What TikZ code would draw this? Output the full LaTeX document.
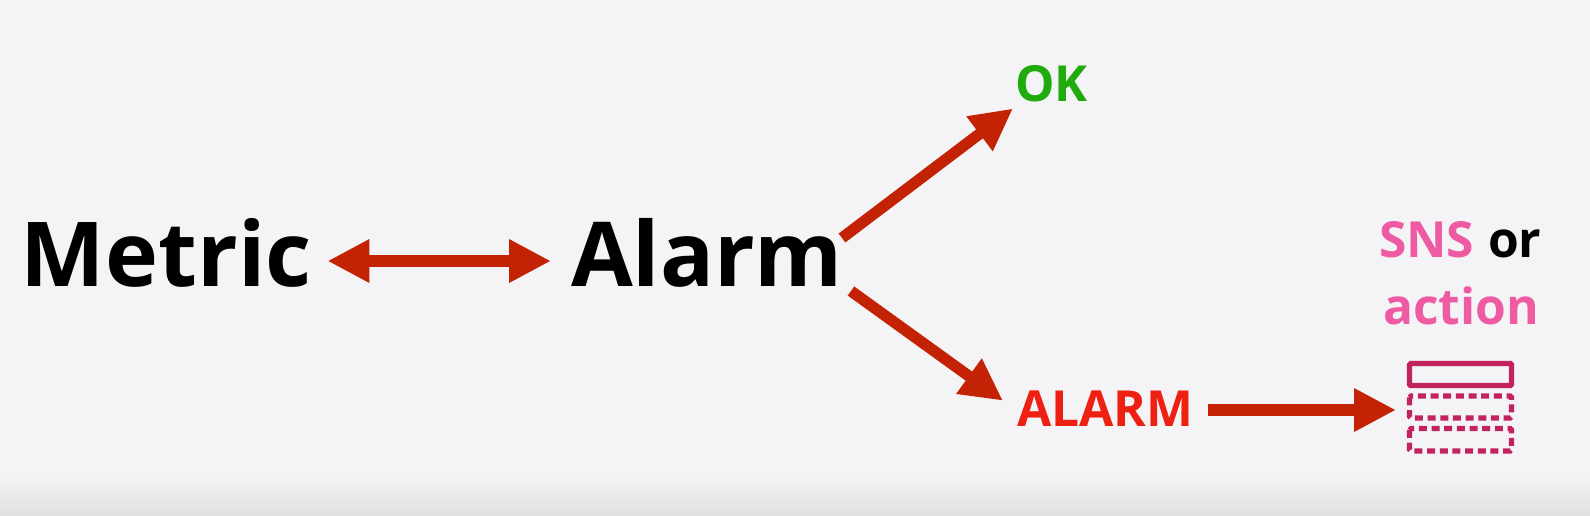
\documentclass[tikz,border=0pt]{standalone}
\usepackage{fontspec}
\setmainfont{Open Sans}[BoldFont={Open Sans Bold}]
\usetikzlibrary{arrows.meta,calc}
\definecolor{bgc}{HTML}{F4F4F7}
\definecolor{botc}{HTML}{E1E1E3}
\definecolor{arrowred}{HTML}{C42205}
\definecolor{okgreen}{HTML}{1FAB0C}
\definecolor{alarmred}{HTML}{EE2011}
\definecolor{snspink}{HTML}{EE5BA3}
\definecolor{iconc}{HTML}{C2225E}
\tikzset{
  lbl/.style={anchor=base west,inner sep=0pt,outer sep=0pt,font=\bfseries},
  bigtext/.style={lbl,font=\fontsize{67.2}{67.2}\selectfont\bfseries,text height=51.75pt,text depth=14.25pt},
  midtext/.style={lbl,font=\fontsize{37.3}{37.3}\selectfont\bfseries},
  conn/.style={draw=arrowred,line width=8.4pt,-{Triangle[length=31.5pt,width=30.5pt,fill=arrowred]}},
  conntwo/.style={draw=arrowred,line width=8.8pt,{Triangle[length=31.5pt,width=30.5pt,fill=arrowred]}-{Triangle[length=31.5pt,width=30.5pt,fill=arrowred]}},
  iconsolid/.style={draw=iconc,line width=3.8pt,rounded corners=0.8pt},
  icondash/.style={draw=iconc,line width=3.8pt,dash pattern=on 6pt off 3.5pt,rounded corners=1pt},
}
\begin{document}
\begin{tikzpicture}[x=0.75pt,y=-0.75pt]
\useasboundingbox (0,0) rectangle (1590,515);
\fill[bgc] (0,0) rectangle (1590,515);
\shade[top color=bgc,bottom color=botc] (0,474) rectangle (1590,515);
\node[bigtext,text=black] (metric) at (21,286) {Metric};
\node[bigtext,text=black] (alarm) at (571,286) {Alarm};
\node[midtext,text=okgreen] (ok) at (1015,101) {OK};
\node[midtext,text=alarmred] (alarmstate) at (1017,426.5) {ALARM};
\node[midtext,text=snspink] (sns) at (1379,257) {SNS};
\node[midtext,text=black] (orword) at (1488,257) {or};
\node[midtext,text=snspink] (action) at (1383,324) {action};
\path[iconsolid] (1409.5,363.5) rectangle (1511.5,385.5);
\path[icondash] (1409.5,396) rectangle (1511.5,418);
\path[icondash] (1409.5,428.5) rectangle (1511.5,451);
\coordinate (icon) at (1396,410);
\draw[conntwo,shorten <=12pt] (metric.east) -- ($(alarm.west)+(-20,0)$);
\draw[conn] ($(alarm.east)+(-1,-23)$) -- ($(ok.south west)+(-2,7)$);
\draw[conn] ($(alarm.east)+(8,30)$) -- ($(alarmstate.west)+(-14,-8)$);
\draw[conn] ($(alarmstate.east |- icon)+(15,0)$) -- (icon);
\end{tikzpicture}
\end{document}
